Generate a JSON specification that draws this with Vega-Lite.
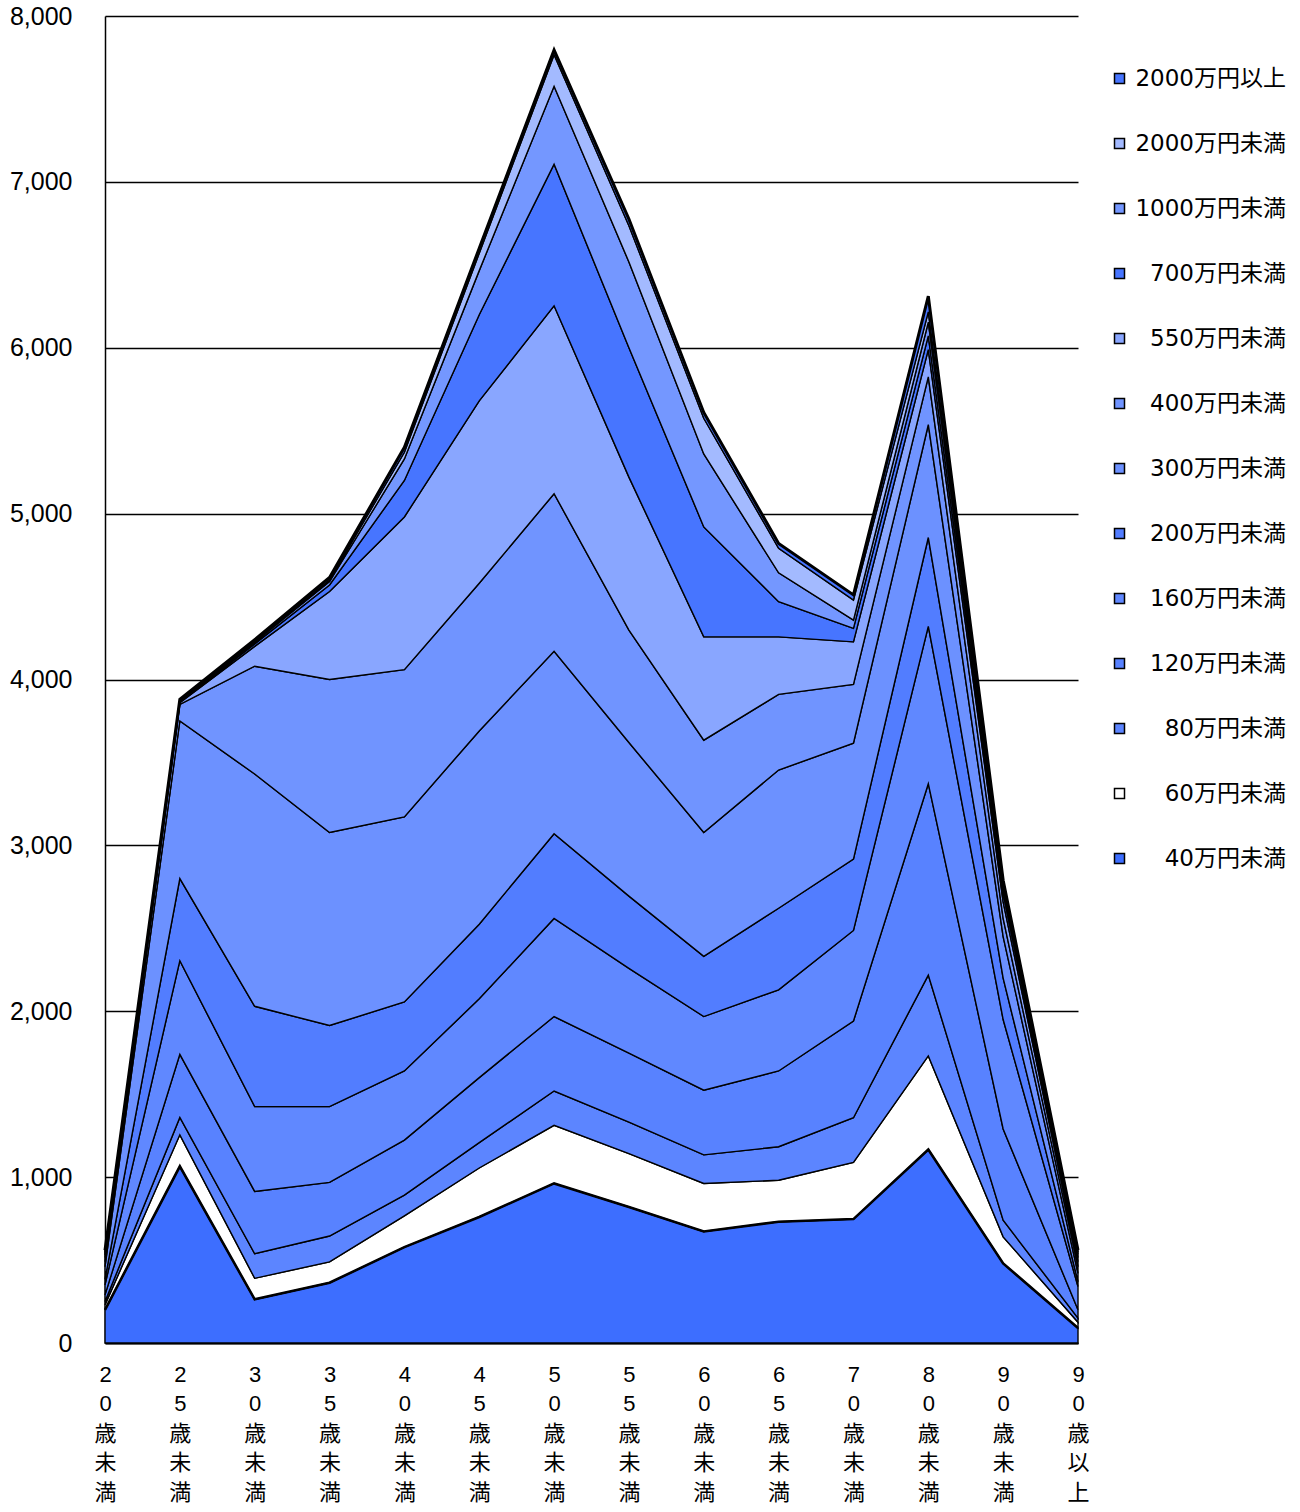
{
  "$schema": "https://vega.github.io/schema/vega-lite/v6.json",
  "width": 973,
  "height": 1327,
  "autosize": "none",
  "padding": {"left": 105, "top": 16, "right": 222, "bottom": 169},
  "background": "white",
  "config": {
    "view": {"stroke": null},
    "font": "Noto Sans CJK JP",
    "axis": {"labelColor": "black", "title": null}
  },
  "data": {
    "values": [
      {"age": "20歳未満", "band": "40万円未満", "k": 1, "count": 200},
      {"age": "20歳未満", "band": "60万円未満", "k": 2, "count": 30},
      {"age": "20歳未満", "band": "80万円未満", "k": 3, "count": 20},
      {"age": "20歳未満", "band": "120万円未満", "k": 4, "count": 40},
      {"age": "20歳未満", "band": "160万円未満", "k": 5, "count": 60},
      {"age": "20歳未満", "band": "200万円未満", "k": 6, "count": 35},
      {"age": "20歳未満", "band": "300万円未満", "k": 7, "count": 75},
      {"age": "20歳未満", "band": "400万円未満", "k": 8, "count": 30},
      {"age": "20歳未満", "band": "550万円未満", "k": 9, "count": 25},
      {"age": "20歳未満", "band": "700万円未満", "k": 10, "count": 15},
      {"age": "20歳未満", "band": "1000万円未満", "k": 11, "count": 10},
      {"age": "20歳未満", "band": "2000万円未満", "k": 12, "count": 10},
      {"age": "20歳未満", "band": "2000万円以上", "k": 13, "count": 10},

      {"age": "25歳未満", "band": "40万円未満", "k": 1, "count": 1065},
      {"age": "25歳未満", "band": "60万円未満", "k": 2, "count": 190},
      {"age": "25歳未満", "band": "80万円未満", "k": 3, "count": 105},
      {"age": "25歳未満", "band": "120万円未満", "k": 4, "count": 380},
      {"age": "25歳未満", "band": "160万円未満", "k": 5, "count": 565},
      {"age": "25歳未満", "band": "200万円未満", "k": 6, "count": 495},
      {"age": "25歳未満", "band": "300万円未満", "k": 7, "count": 950},
      {"age": "25歳未満", "band": "400万円未満", "k": 8, "count": 100},
      {"age": "25歳未満", "band": "550万円未満", "k": 9, "count": 10},
      {"age": "25歳未満", "band": "700万円未満", "k": 10, "count": 5},
      {"age": "25歳未満", "band": "1000万円未満", "k": 11, "count": 5},
      {"age": "25歳未満", "band": "2000万円未満", "k": 12, "count": 5},
      {"age": "25歳未満", "band": "2000万円以上", "k": 13, "count": 5},

      {"age": "30歳未満", "band": "40万円未満", "k": 1, "count": 263},
      {"age": "30歳未満", "band": "60万円未満", "k": 2, "count": 127},
      {"age": "30歳未満", "band": "80万円未満", "k": 3, "count": 148},
      {"age": "30歳未満", "band": "120万円未満", "k": 4, "count": 376},
      {"age": "30歳未満", "band": "160万円未満", "k": 5, "count": 511},
      {"age": "30歳未満", "band": "200万円未満", "k": 6, "count": 605},
      {"age": "30歳未満", "band": "300万円未満", "k": 7, "count": 1400},
      {"age": "30歳未満", "band": "400万円未満", "k": 8, "count": 650},
      {"age": "30歳未満", "band": "550万円未満", "k": 9, "count": 120},
      {"age": "30歳未満", "band": "700万円未満", "k": 10, "count": 15},
      {"age": "30歳未満", "band": "1000万円未満", "k": 11, "count": 10},
      {"age": "30歳未満", "band": "2000万円未満", "k": 12, "count": 7},
      {"age": "30歳未満", "band": "2000万円以上", "k": 13, "count": 8},

      {"age": "35歳未満", "band": "40万円未満", "k": 1, "count": 363},
      {"age": "35歳未満", "band": "60万円未満", "k": 2, "count": 126},
      {"age": "35歳未満", "band": "80万円未満", "k": 3, "count": 156},
      {"age": "35歳未満", "band": "120万円未満", "k": 4, "count": 323},
      {"age": "35歳未満", "band": "160万円未満", "k": 5, "count": 457},
      {"age": "35歳未満", "band": "200万円未満", "k": 6, "count": 489},
      {"age": "35歳未満", "band": "300万円未満", "k": 7, "count": 1164},
      {"age": "35歳未満", "band": "400万円未満", "k": 8, "count": 922},
      {"age": "35歳未満", "band": "550万円未満", "k": 9, "count": 530},
      {"age": "35歳未満", "band": "700万円未満", "k": 10, "count": 40},
      {"age": "35歳未満", "band": "1000万円未満", "k": 11, "count": 20},
      {"age": "35歳未満", "band": "2000万円未満", "k": 12, "count": 10},
      {"age": "35歳未満", "band": "2000万円以上", "k": 13, "count": 15},

      {"age": "40歳未満", "band": "40万円未満", "k": 1, "count": 578},
      {"age": "40歳未満", "band": "60万円未満", "k": 2, "count": 188},
      {"age": "40歳未満", "band": "80万円未満", "k": 3, "count": 126},
      {"age": "40歳未満", "band": "120万円未満", "k": 4, "count": 331},
      {"age": "40歳未満", "band": "160万円未満", "k": 5, "count": 417},
      {"age": "40歳未満", "band": "200万円未満", "k": 6, "count": 416},
      {"age": "40歳未満", "band": "300万円未満", "k": 7, "count": 1116},
      {"age": "40歳未満", "band": "400万円未満", "k": 8, "count": 887},
      {"age": "40歳未満", "band": "550万円未満", "k": 9, "count": 921},
      {"age": "40歳未満", "band": "700万円未満", "k": 10, "count": 220},
      {"age": "40歳未満", "band": "1000万円未満", "k": 11, "count": 130},
      {"age": "40歳未満", "band": "2000万円未満", "k": 12, "count": 40},
      {"age": "40歳未満", "band": "2000万円以上", "k": 13, "count": 30},

      {"age": "45歳未満", "band": "40万円未満", "k": 1, "count": 760},
      {"age": "45歳未満", "band": "60万円未満", "k": 2, "count": 295},
      {"age": "45歳未満", "band": "80万円未満", "k": 3, "count": 153},
      {"age": "45歳未満", "band": "120万円未満", "k": 4, "count": 392},
      {"age": "45歳未満", "band": "160万円未満", "k": 5, "count": 475},
      {"age": "45歳未満", "band": "200万円未満", "k": 6, "count": 450},
      {"age": "45歳未満", "band": "300万円未満", "k": 7, "count": 1165},
      {"age": "45歳未満", "band": "400万円未満", "k": 8, "count": 890},
      {"age": "45歳未満", "band": "550万円未満", "k": 9, "count": 1100},
      {"age": "45歳未満", "band": "700万円未満", "k": 10, "count": 519},
      {"age": "45歳未満", "band": "1000万円未満", "k": 11, "count": 266},
      {"age": "45歳未満", "band": "2000万円未満", "k": 12, "count": 105},
      {"age": "45歳未満", "band": "2000万円以上", "k": 13, "count": 30},

      {"age": "50歳未満", "band": "40万円未満", "k": 1, "count": 962},
      {"age": "50歳未満", "band": "60万円未満", "k": 2, "count": 350},
      {"age": "50歳未満", "band": "80万円未満", "k": 3, "count": 207},
      {"age": "50歳未満", "band": "120万円未満", "k": 4, "count": 449},
      {"age": "50歳未満", "band": "160万円未満", "k": 5, "count": 591},
      {"age": "50歳未満", "band": "200万円未満", "k": 6, "count": 511},
      {"age": "50歳未満", "band": "300万円未満", "k": 7, "count": 1100},
      {"age": "50歳未満", "band": "400万円未満", "k": 8, "count": 950},
      {"age": "50歳未満", "band": "550万円未満", "k": 9, "count": 1133},
      {"age": "50歳未満", "band": "700万円未満", "k": 10, "count": 853},
      {"age": "50歳未満", "band": "1000万円未満", "k": 11, "count": 470},
      {"age": "50歳未満", "band": "2000万円未満", "k": 12, "count": 191},
      {"age": "50歳未満", "band": "2000万円以上", "k": 13, "count": 29},

      {"age": "55歳未満", "band": "40万円未満", "k": 1, "count": 820},
      {"age": "55歳未満", "band": "60万円未満", "k": 2, "count": 322},
      {"age": "55歳未満", "band": "80万円未満", "k": 3, "count": 189},
      {"age": "55歳未満", "band": "120万円未満", "k": 4, "count": 416},
      {"age": "55歳未満", "band": "160万円未満", "k": 5, "count": 511},
      {"age": "55歳未満", "band": "200万円未満", "k": 6, "count": 436},
      {"age": "55歳未満", "band": "300万円未満", "k": 7, "count": 926},
      {"age": "55歳未満", "band": "400万円未満", "k": 8, "count": 678},
      {"age": "55歳未満", "band": "550万円未満", "k": 9, "count": 922},
      {"age": "55歳未満", "band": "700万円未満", "k": 10, "count": 780},
      {"age": "55歳未満", "band": "1000万円未満", "k": 11, "count": 517},
      {"age": "55歳未満", "band": "2000万円未満", "k": 12, "count": 219},
      {"age": "55歳未満", "band": "2000万円以上", "k": 13, "count": 39},

      {"age": "60歳未満", "band": "40万円未満", "k": 1, "count": 672},
      {"age": "60歳未満", "band": "60万円未満", "k": 2, "count": 290},
      {"age": "60歳未満", "band": "80万円未満", "k": 3, "count": 172},
      {"age": "60歳未満", "band": "120万円未満", "k": 4, "count": 390},
      {"age": "60歳未満", "band": "160万円未満", "k": 5, "count": 444},
      {"age": "60歳未満", "band": "200万円未満", "k": 6, "count": 363},
      {"age": "60歳未満", "band": "300万円未満", "k": 7, "count": 747},
      {"age": "60歳未満", "band": "400万円未満", "k": 8, "count": 556},
      {"age": "60歳未満", "band": "550万円未満", "k": 9, "count": 623},
      {"age": "60歳未満", "band": "700万円未満", "k": 10, "count": 663},
      {"age": "60歳未満", "band": "1000万円未満", "k": 11, "count": 440},
      {"age": "60歳未満", "band": "2000万円未満", "k": 12, "count": 215},
      {"age": "60歳未満", "band": "2000万円以上", "k": 13, "count": 35},

      {"age": "65歳未満", "band": "40万円未満", "k": 1, "count": 731},
      {"age": "65歳未満", "band": "60万円未満", "k": 2, "count": 250},
      {"age": "65歳未満", "band": "80万円未満", "k": 3, "count": 202},
      {"age": "65歳未満", "band": "120万円未満", "k": 4, "count": 457},
      {"age": "65歳未満", "band": "160万円未満", "k": 5, "count": 489},
      {"age": "65歳未満", "band": "200万円未満", "k": 6, "count": 492},
      {"age": "65歳未満", "band": "300万円未満", "k": 7, "count": 833},
      {"age": "65歳未満", "band": "400万円未満", "k": 8, "count": 456},
      {"age": "65歳未満", "band": "550万円未満", "k": 9, "count": 347},
      {"age": "65歳未満", "band": "700万円未満", "k": 10, "count": 212},
      {"age": "65歳未満", "band": "1000万円未満", "k": 11, "count": 174},
      {"age": "65歳未満", "band": "2000万円未満", "k": 12, "count": 148},
      {"age": "65歳未満", "band": "2000万円以上", "k": 13, "count": 29},

      {"age": "70歳未満", "band": "40万円未満", "k": 1, "count": 747},
      {"age": "70歳未満", "band": "60万円未満", "k": 2, "count": 342},
      {"age": "70歳未満", "band": "80万円未満", "k": 3, "count": 269},
      {"age": "70歳未満", "band": "120万円未満", "k": 4, "count": 583},
      {"age": "70歳未満", "band": "160万円未満", "k": 5, "count": 546},
      {"age": "70歳未満", "band": "200万円未満", "k": 6, "count": 430},
      {"age": "70歳未満", "band": "300万円未満", "k": 7, "count": 699},
      {"age": "70歳未満", "band": "400万円未満", "k": 8, "count": 354},
      {"age": "70歳未満", "band": "550万円未満", "k": 9, "count": 257},
      {"age": "70歳未満", "band": "700万円未満", "k": 10, "count": 81},
      {"age": "70歳未満", "band": "1000万円未満", "k": 11, "count": 50},
      {"age": "70歳未満", "band": "2000万円未満", "k": 12, "count": 121},
      {"age": "70歳未満", "band": "2000万円以上", "k": 13, "count": 31},

      {"age": "80歳未満", "band": "40万円未満", "k": 1, "count": 1167},
      {"age": "80歳未満", "band": "60万円未満", "k": 2, "count": 564},
      {"age": "80歳未満", "band": "80万円未満", "k": 3, "count": 487},
      {"age": "80歳未満", "band": "120万円未満", "k": 4, "count": 1154},
      {"age": "80歳未満", "band": "160万円未満", "k": 5, "count": 948},
      {"age": "80歳未満", "band": "200万円未満", "k": 6, "count": 536},
      {"age": "80歳未満", "band": "300万円未満", "k": 7, "count": 680},
      {"age": "80歳未満", "band": "400万円未満", "k": 8, "count": 288},
      {"age": "80歳未満", "band": "550万円未満", "k": 9, "count": 165},
      {"age": "80歳未満", "band": "700万円未満", "k": 10, "count": 83},
      {"age": "80歳未満", "band": "1000万円未満", "k": 11, "count": 82},
      {"age": "80歳未満", "band": "2000万円未満", "k": 12, "count": 62},
      {"age": "80歳未満", "band": "2000万円以上", "k": 13, "count": 95},

      {"age": "90歳未満", "band": "40万円未満", "k": 1, "count": 480},
      {"age": "90歳未満", "band": "60万円未満", "k": 2, "count": 160},
      {"age": "90歳未満", "band": "80万円未満", "k": 3, "count": 100},
      {"age": "90歳未満", "band": "120万円未満", "k": 4, "count": 550},
      {"age": "90歳未満", "band": "160万円未満", "k": 5, "count": 660},
      {"age": "90歳未満", "band": "200万円未満", "k": 6, "count": 250},
      {"age": "90歳未満", "band": "300万円未満", "k": 7, "count": 250},
      {"age": "90歳未満", "band": "400万円未満", "k": 8, "count": 110},
      {"age": "90歳未満", "band": "550万円未満", "k": 9, "count": 100},
      {"age": "90歳未満", "band": "700万円未満", "k": 10, "count": 50},
      {"age": "90歳未満", "band": "1000万円未満", "k": 11, "count": 40},
      {"age": "90歳未満", "band": "2000万円未満", "k": 12, "count": 20},
      {"age": "90歳未満", "band": "2000万円以上", "k": 13, "count": 20},

      {"age": "90歳以上", "band": "40万円未満", "k": 1, "count": 90},
      {"age": "90歳以上", "band": "60万円未満", "k": 2, "count": 35},
      {"age": "90歳以上", "band": "80万円未満", "k": 3, "count": 25},
      {"age": "90歳以上", "band": "120万円未満", "k": 4, "count": 50},
      {"age": "90歳以上", "band": "160万円未満", "k": 5, "count": 140},
      {"age": "90歳以上", "band": "200万円未満", "k": 6, "count": 30},
      {"age": "90歳以上", "band": "300万円未満", "k": 7, "count": 50},
      {"age": "90歳以上", "band": "400万円未満", "k": 8, "count": 40},
      {"age": "90歳以上", "band": "550万円未満", "k": 9, "count": 30},
      {"age": "90歳以上", "band": "700万円未満", "k": 10, "count": 25},
      {"age": "90歳以上", "band": "1000万円未満", "k": 11, "count": 20},
      {"age": "90歳以上", "band": "2000万円未満", "k": 12, "count": 13},
      {"age": "90歳以上", "band": "2000万円以上", "k": 13, "count": 12}
    ]
  },
  "encoding": {
    "x": {
      "field": "age",
      "type": "ordinal",
      "sort": ["20歳未満", "25歳未満", "30歳未満", "35歳未満", "40歳未満", "45歳未満", "50歳未満", "55歳未満", "60歳未満", "65歳未満", "70歳未満", "80歳未満", "90歳未満", "90歳以上"],
      "scale": {"type": "point", "padding": 0},
      "axis": {
        "labelAngle": 0,
        "labelExpr": "split(datum.label, '')",
        "labelFont": "Liberation Sans, Noto Sans CJK JP",
        "labelFontSize": 22,
        "labelLineHeight": 29.5,
        "labelPadding": 21,
        "labelBaseline": "top",
        "ticks": false,
        "domain": true,
        "domainColor": "black",
        "domainWidth": 2,
        "grid": false
      }
    }
  },
  "layer": [
    {
      "mark": {"type": "area", "stroke": "black", "strokeWidth": 1.4, "strokeJoin": "miter", "opacity": 1},
      "encoding": {
        "y": {
          "field": "count",
          "type": "quantitative",
          "stack": "zero",
          "scale": {"domain": [0, 8000], "nice": false},
          "axis": {
            "values": [0, 1000, 2000, 3000, 4000, 5000, 6000, 7000, 8000],
            "format": ",.0f",
            "labelFont": "Liberation Sans",
            "labelFontSize": 25,
            "labelPadding": 33,
            "ticks": false,
            "domain": true,
            "domainColor": "black",
            "domainWidth": 1.5,
            "grid": true,
            "gridColor": "black",
            "gridWidth": 1.5,
            "gridOpacity": 1,
            "zindex": 0
          }
        },
        "color": {
          "field": "band",
          "type": "nominal",
          "scale": {
            "domain": ["2000万円以上", "2000万円未満", "1000万円未満", "700万円未満", "550万円未満", "400万円未満", "300万円未満", "200万円未満", "160万円未満", "120万円未満", "80万円未満", "60万円未満", "40万円未満"],
            "range": ["#4775ff", "#a3baff", "#7497ff", "#4775ff", "#89a6ff", "#7094ff", "#6c91ff", "#527dff", "#6088ff", "#5882ff", "#5c85ff", "#ffffff", "#3d6eff"]
          },
          "legend": {
            "orient": "none",
            "legendX": 1003,
            "legendY": 51,
            "title": null,
            "symbolType": "square",
            "symbolSize": 100,
            "symbolStrokeColor": "black",
            "symbolStrokeWidth": 1.5,
            "symbolOpacity": 1,
            "labelFont": "DejaVu Sans, Noto Sans CJK JP",
            "labelFontSize": 23,
            "labelColor": "black",
            "labelAlign": "right",
            "labelOffset": 155,
            "labelLimit": 300,
            "rowPadding": 41
          }
        },
        "order": {"field": "k", "type": "quantitative", "sort": "ascending"}
      }
    },
    {
      "transform": [
        {"aggregate": [{"op": "sum", "field": "count", "as": "total"}], "groupby": ["age"]}
      ],
      "mark": {"type": "line", "color": "black", "strokeWidth": 3, "strokeJoin": "miter"},
      "encoding": {
        "y": {"field": "total", "type": "quantitative"}
      }
    },
    {
      "transform": [{"filter": "datum.k == 1"}],
      "mark": {"type": "line", "color": "black", "strokeWidth": 2.6, "strokeJoin": "miter"},
      "encoding": {
        "y": {"field": "count", "type": "quantitative"}
      }
    }
  ]
}
